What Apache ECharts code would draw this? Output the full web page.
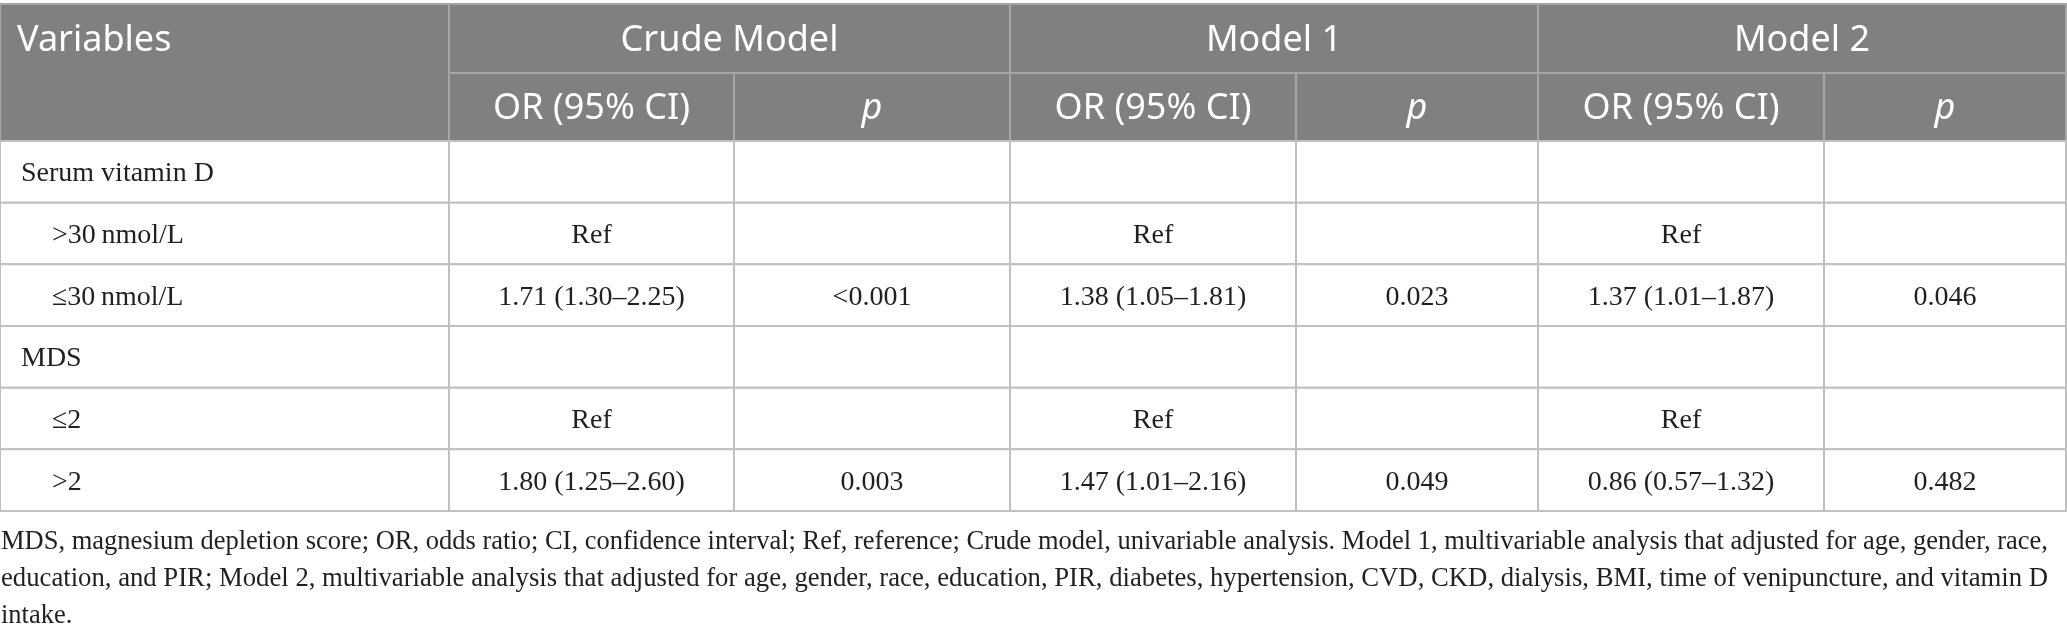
<!DOCTYPE html>
<html>
<head>
<meta charset="utf-8">
<title>Odds ratios table</title>
<script src="https://cdn.jsdelivr.net/npm/echarts@6/dist/echarts.min.js"></script>
<style>
  html, body { margin: 0; padding: 0; background: #fff; }
  #chart { width: 2067px; height: 638px; }
</style>
</head>
<body>
<div id="chart"></div>
<script>
// table content
const groups = ['Crude Model', 'Model 1', 'Model 2'];
const subHeads = ['OR (95% CI)', 'p'];
const variables = ['Serum vitamin D', '>30\u2009nmol/L', '\u226430\u2009nmol/L', 'MDS', '\u22642', '>2'];
const isSubgroup = [false, true, true, false, true, true];
const crudeOR = ['', 'Ref', '1.71 (1.30\u20132.25)', '', 'Ref', '1.80 (1.25\u20132.60)'];
const crudeP = ['', '', '<0.001', '', '', '0.003'];
const model1OR = ['', 'Ref', '1.38 (1.05\u20131.81)', '', 'Ref', '1.47 (1.01\u20132.16)'];
const model1P = ['', '', '0.023', '', '', '0.049'];
const model2OR = ['', 'Ref', '1.37 (1.01\u20131.87)', '', 'Ref', '0.86 (0.57\u20131.32)'];
const model2P = ['', '', '0.046', '', '', '0.482'];
const footnote = [
  'MDS, magnesium depletion score; OR, odds ratio; CI, confidence interval; Ref, reference; Crude model, univariable analysis. Model 1, multivariable analysis that adjusted for age, gender, race,',
  'education, and PIR; Model 2, multivariable analysis that adjusted for age, gender, race, education, PIR, diabetes, hypertension, CVD, CKD, dialysis, BMI, time of venipuncture, and vitamin D',
  'intake.'
];

// layout (axis units = px)
const colEdges = [0, 449, 734, 1010, 1296, 1538, 1824, 2066];
const rowEdges = [0, 69, 137, 198.7, 260.3, 322, 383.7, 445.3, 507];
const HEAD_BG = '#808080';
const HEAD_LINE = '#a6a6a6';
const BODY_LINE = '#c0c0c0';
const SANS = '"Noto Sans", "Open Sans", sans-serif';
const SERIF = '"Liberation Serif", "DejaVu Serif", serif';

const bodyCols = [crudeOR, crudeP, model1OR, model1P, model2OR, model2P];

function buildCells() {
  const cells = [];
  // header
  cells.push({c0: 0, c1: 1, r0: 0, r1: 2, text: 'Variables', head: true, align: 'left', textRow: 0});
  groups.forEach((g, i) => {
    cells.push({c0: 1 + i * 2, c1: 3 + i * 2, r0: 0, r1: 1, text: g, head: true});
    subHeads.forEach((s, j) => {
      cells.push({c0: 1 + i * 2 + j, c1: 2 + i * 2 + j, r0: 1, r1: 2, text: s, head: true, italic: j === 1});
    });
  });
  // body
  variables.forEach((v, r) => {
    cells.push({c0: 0, c1: 1, r0: r + 2, r1: r + 3, text: v, align: 'left', indent: isSubgroup[r]});
    bodyCols.forEach((col, k) => {
      cells.push({c0: k + 1, c1: k + 2, r0: r + 2, r1: r + 3, text: col[r]});
    });
  });
  return cells;
}

const cells = buildCells();

function renderCell(params, api) {
  const cell = cells[params.dataIndex];
  const p0 = api.coord([api.value(0), api.value(2)]);
  const p1 = api.coord([api.value(1), api.value(3)]);
  const w = p1[0] - p0[0];
  const h = p1[1] - p0[1];
  const children = [{
    type: 'rect',
    shape: {x: p0[0], y: p0[1], width: w, height: h},
    style: {fill: cell.head ? HEAD_BG : '#fff', stroke: cell.head ? HEAD_LINE : BODY_LINE, lineWidth: 2}
  }];
  if (cell.text) {
    let ty = (p0[1] + p1[1]) / 2;
    if (cell.textRow === 0) {
      ty = (api.coord([0, rowEdges[0]])[1] + api.coord([0, rowEdges[1]])[1]) / 2;
    }
    let tx = (p0[0] + p1[0]) / 2;
    if (cell.align === 'left') {
      tx = p0[0] + (cell.head ? 17 : (cell.indent ? 52 : 21));
    }
    children.push({
      type: 'text',
      style: {
        text: cell.text,
        x: tx,
        y: ty + 2,
        align: cell.align || 'center',
        verticalAlign: 'middle',
        fill: cell.head ? '#fff' : '#231f20',
        fontFamily: cell.head ? SANS : SERIF,
        fontSize: cell.head ? 36 : 28,
        fontStyle: cell.italic ? 'italic' : 'normal'
      }
    });
  }
  return {type: 'group', children: children};
}

// footnote is justified in the source; squeeze each line to the measured width
const FOOT_FONT = 27;
const FOOT_WIDTH = 2047;
const measureCtx = document.createElement('canvas').getContext('2d');
measureCtx.font = FOOT_FONT + 'px "Liberation Serif"';
const footScale = footnote.map(line => FOOT_WIDTH / measureCtx.measureText(line).width);

const footGraphics = footnote.map((line, i) => ({
  type: 'text',
  x: 1,
  y: 542 + i * 37,
  scaleX: i === footnote.length - 1 ? footScale[0] : footScale[i],
  style: {
    text: line,
    fontFamily: SERIF,
    fontSize: FOOT_FONT,
    fill: '#231f20',
    verticalAlign: 'middle'
  }
}));

const chart = echarts.init(document.getElementById('chart'), null, {renderer: 'canvas'});
chart.setOption({
  animation: false,
  grid: {left: 0, top: 4, width: 2066, height: 507, containLabel: false},
  xAxis: {type: 'value', min: 0, max: 2066, show: false},
  yAxis: {type: 'value', min: 0, max: 507, inverse: true, show: false},
  series: [{
    type: 'custom',
    renderItem: renderCell,
    encode: {x: [0, 1], y: [2, 3]},
    data: cells.map(c => [colEdges[c.c0], colEdges[c.c1], rowEdges[c.r0], rowEdges[c.r1]]),
    silent: true
  }],
  graphic: footGraphics
});
</script>
</body>
</html>
